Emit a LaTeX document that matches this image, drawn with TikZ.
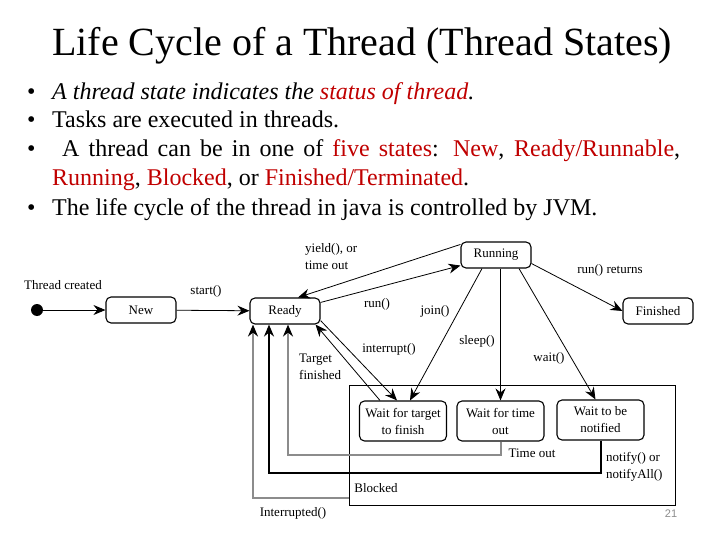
\documentclass[tikz,border=0pt]{standalone}
\usepackage{fontspec}
\setmainfont{Liberation Serif}
\setsansfont{Liberation Sans}
\usetikzlibrary{arrows.meta}
\definecolor{slidered}{RGB}{192,0,0}
\definecolor{linegray}{RGB}{140,140,140}
\newcommand{\lbl}{\fontsize{13}{17}\selectfont}
\newcommand{\bul}{\fontsize{24}{28}\selectfont}
\newcommand{\hl}[1]{\textcolor{slidered}{#1}}

\begin{document}
\begin{tikzpicture}[x=1pt, y=-1pt, >={Stealth[length=12pt,width=10pt,inset=4pt]}]
\useasboundingbox (0,0) rectangle (720,540);

\node(title) at (362,46) {\fontsize{40}{44}\selectfont Life Cycle of a Thread (Thread States)};

\begin{scope}[every node/.style = {anchor=base west, inner sep=0pt, font=\bul}]
   \node(dot1) at (27,100) {\textbullet};
   \node(dot2) at (27,128) {\textbullet};
   \node(dot3) at (27,157) {\textbullet};
   \node(dot4) at (27,215) {\textbullet};
   \node(line1) at (52,100) {\itshape A thread state indicates the \hl{status of thread}.};
   \node(line2) at (52,128) {Tasks are executed in threads.};
   \node(line3) at (62,157) {\makebox[618pt][s]{A thread can be in one of \hl{five states}: \hl{New}, \hl{Ready/Runnable},}};
   \node(line3b) at (52,186) {\hl{Running}, \hl{Blocked}, or \hl{Finished/Terminated}.};
   \node(line4) at (52,215) {The life cycle of the thread in java is controlled by JVM.};
\end{scope}

\node(start)[circle, fill, inner sep=0pt, minimum size=12pt] at (37,310) {};

\begin{scope}[every node/.style = {draw, rounded corners=5pt, line width=1.1pt, minimum width=70pt, minimum height=26pt, font=\lbl}]
   \node(new) at (141,310) {New};
   \node(ready) at (285,311) {Ready};
   \node(running) at (496,255) {Running};
   \node(finished) at (658,311) {Finished};
\end{scope}

\node(blocked)[draw, line width=0.9pt, minimum width=326pt, minimum height=120pt] at (512,445) {};

\begin{scope}[every node/.style = {draw, rounded corners=5pt, line width=1.1pt, minimum width=87pt, minimum height=40pt, align=center, inner sep=1pt, font=\lbl}]
   \node(target) at (403,421) {Wait for target\\to finish};
   \node(timeout) at (500.5,421) {Wait for time\\out};
   \node(notified) at (600.5,420) {Wait to be\\notified};
\end{scope}

\begin{scope}[every edge/.style = {->, draw, line width=0.8pt}]
   \path(start) edge[] (new);
   \path(new) edge[] (ready);
   \path([yshift=-3pt]running.north west) edge[] ([xshift=13pt]ready.north);
   \path([yshift=-5pt]ready.north east) edge[] ([yshift=3pt]running.south west);
   \path([yshift=5pt]running.south east) edge[] (finished.west);
   \path([yshift=4pt]ready.south east) edge[] ([xshift=-6pt]target.north);
   \path([xshift=-23pt]target.north) edge[] ([xshift=-5pt]ready.south east);
   \path([xshift=-14pt]running.south) edge[] ([xshift=7pt]target.north);
   \path(running.south -| timeout.north) edge[] (timeout.north);
   \path([xshift=23pt]running.south) edge[] ([xshift=-5pt]notified.north);
\end{scope}

\draw[-{Stealth[length=12pt,width=10pt,inset=4pt,black]}, linegray, line width=2pt] (timeout.south) -- ++(0,13) -| ([xshift=3pt]ready.south);
\draw[->, line width=2pt] (notified.south) -- ++(0,32) -| ([xshift=-16pt]ready.south);
\draw[-{Stealth[length=12pt,width=10pt,inset=4pt,black]}, linegray, line width=2pt] ([yshift=7pt]blocked.south west) -| ([xshift=-32pt]ready.south);

\begin{scope}[every node/.style = {inner sep=0pt, font=\lbl}]
   \node(created) at (63,285) {Thread created};
   \node(startlbl) at (206,291) {start()};
   \node(yieldlbl)[align=left, anchor=west] at (305,257) {yield(), or\\time out};
   \node(runlbl) at (377,304) {run()};
   \node(joinlbl) at (435,311) {join()};
   \node(intlbl) at (389,349) {interrupt()};
   \node(sleeplbl) at (477,341) {sleep()};
   \node(waitlbl) at (549,358) {wait()};
   \node(retlbl) at (610,270) {run() returns};
   \node(finlbl)[align=left, anchor=west] at (299,367) {Target\\finished};
   \node(tolbl) at (532,453) {Time out};
   \node(notlbl)[align=left, anchor=west] at (606,467) {notify() or\\notifyAll()};
   \node(blklbl) at (376,488) {Blocked};
   \node(irqlbl) at (293,513) {Interrupted()};
   \node(page)[linegray, font=\sffamily\fontsize{11}{13}\selectfont] at (671,514) {21};
\end{scope}
\end{tikzpicture}
\end{document}
